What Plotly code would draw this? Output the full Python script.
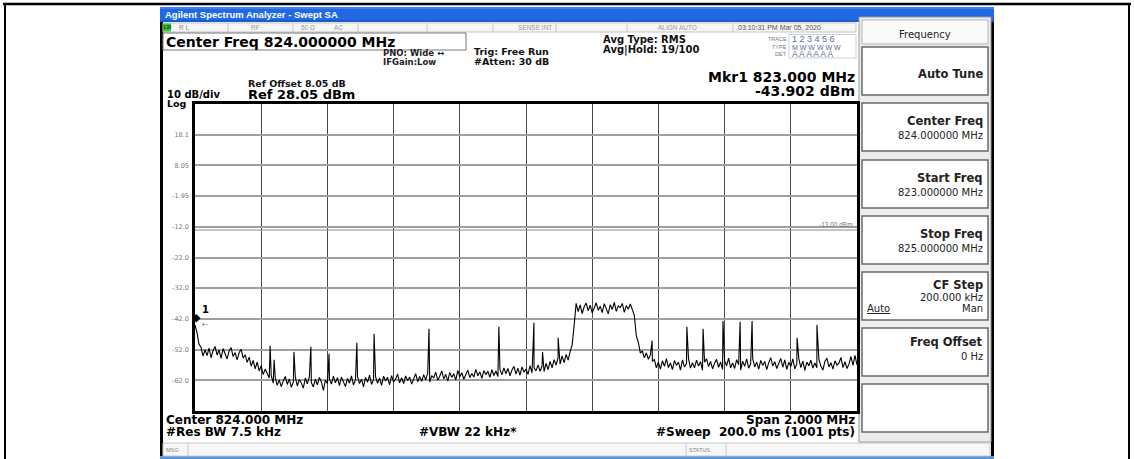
import plotly.graph_objects as go

W, H = 1134, 459

# ---------------- data ----------------
start_mhz = 823.0
stop_mhz = 825.0
ref_level_dbm = 28.05
bottom_dbm = -71.95
display_line_dbm = -13.0
marker_mhz = 823.000
marker_dbm = -43.902

# swept trace (left to right)
trace_dbm = [
    -43.9, -46.5, -50.2,
    -51.2, -54.1, -52.0, -53.9, -51.5, -54.6, -52.3, -50.9, -53.7, -52.1,
    -54.8, -51.6, -53.2, -55.0, -52.4, -51.3, -54.2, -52.9, -55.3, -53.0,
    -51.8, -54.7,
    -53.6, -56.1, -54.4, -57.3, -55.5, -58.2, -56.0, -58.9, -57.2, -60.1, -58.3, -59.6, -61.2,
    -60.4, -62.9, -61.0, -63.6, -61.8, -64.0, -62.2, -60.7, -63.3, -61.5,
    -64.2, -62.6, -60.9, -63.8, -61.7, -62.8, -64.5, -61.2, -63.1, -60.8,
    -62.7, -64.1, -61.6, -63.4, -61.0, -62.5, -65.2, -61.9, -63.0, -61.4,
    -63.2, -60.6, -62.8, -61.1, -63.7, -60.9, -62.4, -64.0, -61.3, -62.9,
    -60.5, -63.5, -61.8, -60.7, -63.0, -61.6, -64.1, -61.0, -62.6, -60.3,
    -63.3, -61.7, -60.8, -62.9, -61.2, -63.6, -60.6, -62.2, -61.0, -63.4,
    -60.4, -62.5, -61.5, -59.9, -62.8, -61.1, -63.0, -60.5, -62.0, -60.9,
    -63.2, -61.3, -59.8, -62.4, -60.7,
    -62.3, -60.1, -61.8, -59.6, -62.5, -60.4, -61.2, -59.3, -62.0, -60.6,
    -58.9, -61.5, -60.0, -62.2, -59.4, -61.0, -59.8, -61.9, -58.7, -60.8,
    -59.5, -61.6, -60.2, -58.6, -61.1, -59.7, -60.9, -58.4, -60.5, -59.2,
    -61.3, -58.8, -60.1, -59.0, -61.0, -58.5, -60.4, -58.9, -60.7, -58.3,
    -60.2, -57.9, -59.8, -58.1, -60.5, -58.6, -57.4, -59.9, -58.0, -60.3,
    -57.6, -59.2, -58.4, -60.0, -57.2, -59.5, -57.8, -58.9, -56.9, -59.0,
    -57.3, -59.1, -56.4, -58.5, -55.8, -57.9, -55.2, -57.0, -54.6, -56.7,
    -54.0, -56.2, -53.5, -55.4, -52.6,
    -50.4, -44.0,
    -36.9, -39.6, -37.4, -40.2, -38.0, -36.8, -39.3, -37.5, -40.0, -38.4,
    -36.7, -39.1, -37.8, -39.9, -37.0, -38.6, -40.3, -37.3, -38.9, -36.6,
    -39.5, -37.7, -38.3, -36.9, -39.8, -37.6, -38.8, -37.1, -39.2,
    -40.8, -47.5, -49.6, -53.1,
    -52.4, -54.6, -53.0, -55.1, -53.7, -55.8,
    -55.2, -57.9, -56.0, -58.3, -55.6, -57.4, -54.9, -57.8, -56.3, -58.5,
    -55.5, -57.1, -56.0, -58.6, -55.3, -57.6, -56.5, -54.8, -58.0, -56.2,
    -57.9, -55.4, -57.3, -55.9, -58.7, -56.1, -54.9, -57.5, -55.8, -58.2,
    -56.4, -55.1, -57.7, -56.0, -58.4, -55.6, -57.2, -54.7, -57.9, -56.3,
    -58.1, -55.2, -56.9, -58.6, -55.7, -57.4, -55.0, -58.0, -56.5, -54.9,
    -57.6, -56.0, -58.3, -55.5, -57.1, -55.8, -58.5, -56.2, -54.6, -57.3,
    -55.9, -58.1, -56.4, -54.8, -57.7, -55.3, -58.4, -56.1, -57.5, -55.0,
    -58.2, -56.6, -54.9, -57.8, -55.7, -58.7, -56.0, -57.2, -55.4, -58.0,
    -56.3, -57.9, -55.1, -57.4, -58.6, -55.8, -54.7, -57.6, -56.2, -58.3,
    -55.6, -57.0, -56.4, -54.5, -57.8, -55.9, -58.1, -56.7, -54.2, -57.1,
    -53.8, -56.9,
]

# narrow spurs visible above the noise floor
spur_mhz = [823.227, 823.239, 823.299, 823.350, 823.405, 823.489, 823.541, 823.707,
            823.918, 824.024, 824.050, 824.097, 824.381, 824.486, 824.535, 824.595,
            824.647, 824.683, 824.819, 824.879]
spur_dbm = [-50.7, -55.3, -52.7, -51.0, -53.3, -49.7, -46.8, -45.2,
            -44.5, -43.2, -52.7, -48.1, -49.0, -44.5, -45.2, -42.6,
            -42.9, -42.6, -48.1, -43.9]

y_tick_vals = [18.05, 8.05, -1.95, -11.95, -21.95, -31.95, -41.95, -51.95, -61.95]
y_tick_text = ["18.1", "8.05", "-1.95", "-12.0", "-22.0", "-32.0", "-42.0", "-52.0", "-62.0"]
x_grid_mhz = [823.2, 823.4, 823.6, 823.8, 824.0, 824.2, 824.4, 824.6, 824.8]

# ---------------- build trace ----------------
n = len(trace_dbm)
step = (stop_mhz - start_mhz) / (n - 1)
freqs = [start_mhz + i * step for i in range(n)]
pts = sorted(list(zip(freqs, trace_dbm)) + list(zip(spur_mhz, spur_dbm)))
fx = [p[0] for p in pts]
fy = [p[1] for p in pts]

DV = "DejaVu Sans"
LS = "Liberation Sans"

shapes = []
ann = []


def R(x0, y0, x1, y1, fill=None, line=None, lw=1, layer="below"):
    shapes.append(dict(type="rect", xref="paper", yref="paper",
                       x0=x0 / W, x1=x1 / W, y0=1 - y1 / H, y1=1 - y0 / H,
                       fillcolor=fill if fill else "rgba(0,0,0,0)",
                       line=dict(color=line if line else "rgba(0,0,0,0)", width=lw if line else 0),
                       layer=layer))


def L(x0, y0, x1, y1, color="#000", lw=1, layer="below"):
    shapes.append(dict(type="line", xref="paper", yref="paper",
                       x0=x0 / W, x1=x1 / W, y0=1 - y0 / H, y1=1 - y1 / H,
                       line=dict(color=color, width=lw), layer=layer))


def T(x, y, s, size, color="#000", bold=False, anchor="left", family=DV):
    ann.append(dict(x=x / W, y=1 - y / H, xref="paper", yref="paper", text=s,
                    showarrow=False, xanchor=anchor, yanchor="middle", borderpad=0,
                    font=dict(family=family, size=size, color=color,
                              weight="bold" if bold else "normal")))


# outer frame
L(3, 4, 1131, 4, "#000", 2.5, "above")
L(5, 4, 5, 459, "#000", 2, "above")
L(1129, 4, 1129, 459, "#000", 2, "above")

# screenshot area
R(160, 7, 994, 459, fill="#ffffff")
R(160, 7, 994, 22, fill="#2169e2")
R(160, 7, 994, 9, fill="#3b80ee")
R(160, 20, 994, 22, fill="#1a5cc9")
L(161.5, 22, 161.5, 456, "#000", 3)
L(992.5, 22, 992.5, 456, "#000", 3)
R(160, 456, 994, 459, fill="#5d93dc")

# status row
R(163, 23, 856, 32, fill="#f6f6f6", line="#c4c4c4", lw=1)
R(163, 23.5, 171, 31.5, fill="#36c436")
for sx in [228, 293, 358, 427, 493, 556, 627, 733]:
    L(sx, 23, sx, 32, "#c4c4c4", 1)
T(167, 27.8, "LXI", 4.5, "#103010", True, "center", LS)
T(178, 27.8, "R L", 6.5, "#8a8a8a", False, "left", LS)
T(255, 27.8, "RF", 6.5, "#9a9a9a", False, "center", LS)
T(300, 27.8, "50 Ω", 6.5, "#9a9a9a", False, "left", LS)
T(338, 27.8, "AC", 6.5, "#9a9a9a", False, "center", LS)
T(553, 27.8, "SENSE:INT", 6.5, "#9a9a9a", False, "right", LS)
T(657, 27.8, "ALIGN AUTO", 6.5, "#9a9a9a", False, "left", LS)
T(737, 27.8, "03:10:31 PM Mar 05, 2020", 7, "#555", False, "left", LS)

# title
T(164, 14.5, "Agilent Spectrum Analyzer - Swept SA", 9.5, "#ffffff", True, "left", LS)

# header texts
R(163, 33, 466, 50, line="#777", lw=1)
T(165, 41.5, "Center Freq 824.000000 MHz", 14, "#000", True)
T(382, 53, "PNO: Wide ↔", 8.5, "#222", True)
T(382, 62, "IFGain:Low", 8.5, "#222", True)
T(473, 51, "Trig: Free Run", 9.5, "#111", True)
T(473, 61, "#Atten: 30 dB", 9.5, "#111", True)
T(602, 39, "Avg Type: RMS", 10, "#111", True)
T(602, 50, "Avg|Hold: 19/100", 10, "#111", True)
T(788, 39, "TRACE", 5.5, "#777", False, "right", LS)
T(788, 47, "TYPE", 5.5, "#777", False, "right", LS)
T(788, 54.5, "DET", 5.5, "#777", False, "right", LS)
R(789, 34.5, 856, 58, line="#cfcfcf", lw=1)
T(791, 39, "1 2 3 4 5 6", 9, "#5a6aa0", False, "left", LS)
T(791, 47, "M W W W W W", 7, "#5a6aa0", False, "left", LS)
T(791, 54.5, "A A A A A A", 8.5, "#5a6aa0", False, "left", LS)
T(856, 77, "Mkr1 823.000 MHz", 14, "#000", True, "right")
T(856, 91.5, "-43.902 dBm", 14, "#000", True, "right")
T(247, 83, "Ref Offset 8.05 dB", 9.5, "#111", True)
T(247, 94.5, "Ref 28.05 dBm", 13, "#000", True)
T(166, 94.5, "10 dB/div", 10, "#000", True)
T(166, 104, "Log", 9.5, "#000", True)

# bottom texts
T(165, 419.5, "Center 824.000 MHz", 12, "#000", True)
T(165, 432, "#Res BW 7.5 kHz", 12, "#000", True)
T(418, 432, "#VBW 22 kHz*", 12, "#000", True)
T(856, 419.5, "Span 2.000 MHz", 12, "#000", True, "right")
T(856, 432, "#Sweep  200.0 ms (1001 pts)", 12, "#000", True, "right")

# MSG / STATUS bar
R(163, 443, 990, 456, fill="#f7f7f7", line="#c8c8c8", lw=1)
L(188, 443, 188, 456, "#c8c8c8", 1)
L(686, 443, 686, 456, "#c8c8c8", 1)
L(726, 443, 726, 456, "#c8c8c8", 1)
T(165, 449.5, "MSG", 5.5, "#888", False, "left", LS)
T(688, 449.5, "STATUS", 5.5, "#888", False, "left", LS)

# softkey panel
R(859, 17, 991, 442, fill="#ececec", line="#9a9a9a", lw=1)
R(862, 20, 988, 44, fill="#fafafa", line="#b5b5b5", lw=1)
T(925, 34, "Frequency", 10, "#222", False, "center")
btn_tops = [47, 103, 160, 216, 272, 328, 384]
for bt in btn_tops:
    R(862, bt, 988, bt + 48, fill="#ffffff", line="#6a6a6a", lw=1.5)
KX = 984
T(KX, 74, "Auto Tune", 11.5, "#222", True, "right")
T(KX, 121, "Center Freq", 11.5, "#222", True, "right")
T(KX, 135, "824.000000 MHz", 10, "#222", False, "right")
T(KX, 178, "Start Freq", 11.5, "#222", True, "right")
T(KX, 192, "823.000000 MHz", 10, "#222", False, "right")
T(KX, 234, "Stop Freq", 11.5, "#222", True, "right")
T(KX, 248, "825.000000 MHz", 10, "#222", False, "right")
T(KX, 285, "CF Step", 11.5, "#222", True, "right")
T(KX, 297, "200.000 kHz", 10, "#222", False, "right")
T(KX, 308, "Man", 10, "#222", False, "right")
T(866, 308, "<u>Auto</u>", 10, "#222", False, "left")
T(KX, 342, "Freq Offset", 11.5, "#222", True, "right")
T(KX, 356, "0 Hz", 10, "#222", False, "right")

# ---------------- figure ----------------
PX0, PX1, PY0, PY1 = 195, 857, 104, 411

fig = go.Figure()
fig.add_trace(go.Scatter(x=fx, y=fy, mode="lines",
                         line=dict(color="#000", width=1.1), hoverinfo="skip",
                         showlegend=False))

# display line
shapes.append(dict(type="line", xref="x", yref="y", x0=start_mhz, x1=stop_mhz,
                   y0=display_line_dbm, y1=display_line_dbm,
                   line=dict(color="#8c8c8c", width=1), layer="above"))
ann.append(dict(x=stop_mhz, y=display_line_dbm, xref="x", yref="y",
                text="-13.00 dBm", showarrow=False, xanchor="right", yanchor="bottom",
                xshift=-3, yshift=1, borderpad=0,
                font=dict(family=LS, size=6.5, color="#777")))

# marker 1
ann.append(dict(x=marker_mhz, y=marker_dbm, xref="x", yref="y", text="◆",
                showarrow=False, xanchor="center", yanchor="middle", xshift=1, yshift=7,
                borderpad=0, font=dict(family=DV, size=11, color="#000")))
ann.append(dict(x=marker_mhz, y=marker_dbm, xref="x", yref="y", text="1",
                showarrow=False, xanchor="center", yanchor="middle", xshift=10, yshift=15,
                borderpad=0, font=dict(family=DV, size=10, color="#000", weight="bold")))
ann.append(dict(x=marker_mhz, y=marker_dbm, xref="x", yref="y", text="←",
                showarrow=False, xanchor="center", yanchor="middle", xshift=10, yshift=0,
                borderpad=0, font=dict(family=DV, size=8, color="#888")))

fig.update_layout(
    width=W, height=H,
    margin=dict(l=0, r=0, t=0, b=0),
    paper_bgcolor="#ffffff",
    plot_bgcolor="rgba(0,0,0,0)",
    shapes=shapes,
    annotations=ann,
    showlegend=False,
    xaxis=dict(domain=[PX0 / W, PX1 / W], range=[start_mhz, stop_mhz],
               tickvals=x_grid_mhz, showticklabels=False, ticks="",
               showgrid=True, gridcolor="#4a4a4a", gridwidth=1,
               zeroline=False, showline=True, mirror=True,
               linecolor="#000", linewidth=2.5, fixedrange=True),
    yaxis=dict(domain=[1 - PY1 / H, 1 - PY0 / H], range=[bottom_dbm, ref_level_dbm],
               tickvals=y_tick_vals, ticktext=y_tick_text, ticks="",
               tickfont=dict(family=DV, size=6.5, color="#777"),
               ticklabelstandoff=2,
               showgrid=True, gridcolor="#a0a0a0", gridwidth=1.5,
               zeroline=False, showline=True, mirror=True,
               linecolor="#000", linewidth=2.5, fixedrange=True),
)

fig.write_html("out.html", config={"displayModeBar": False},
               post_script="document.body.style.margin='0';document.body.style.overflow='hidden';")
